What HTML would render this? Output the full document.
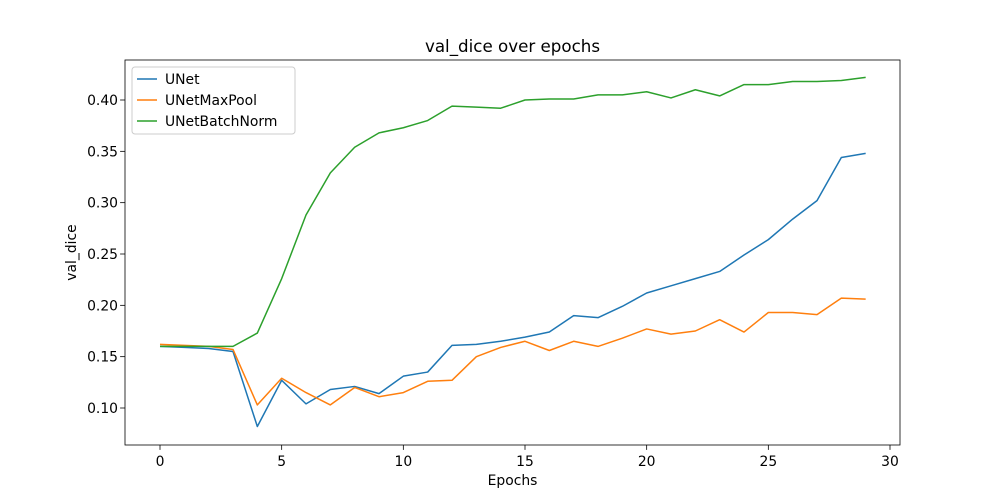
<!DOCTYPE html>
<html><head><meta charset="utf-8"><style>
html,body{margin:0;padding:0;background:#fff;}
svg{display:block;font-family:"DejaVu Sans","Liberation Sans",sans-serif;}
</style></head><body>
<svg id="chart" width="1000" height="500" viewBox="0 0 1000 500" xmlns="http://www.w3.org/2000/svg">
<rect width="1000" height="500" fill="#fff"/>
<text x="512.5" y="52" font-size="16.7" text-anchor="middle">val_dice over epochs</text>
<g id="axes"></g>
<g id="lines"></g>
<rect x="125" y="60" width="775" height="385" fill="none" stroke="#000" stroke-width="0.8"/>
<text x="512.5" y="485" font-size="13.9" text-anchor="middle">Epochs</text>
<text transform="translate(76,252.5) rotate(-90)" font-size="13.9" text-anchor="middle">val_dice</text>
<g id="legend"></g>
</svg>
<script>
const epochs = [0,1,2,3,4,5,6,7,8,9,10,11,12,13,14,15,16,17,18,19,20,21,22,23,24,25,26,27,28,29];
const unet = [0.160,0.159,0.158,0.155,0.082,0.127,0.104,0.118,0.121,0.114,0.131,0.135,0.161,0.162,0.165,0.169,0.174,0.190,0.188,0.199,0.212,0.219,0.226,0.233,0.249,0.264,0.284,0.302,0.344,0.348];
const unetMaxPool = [0.162,0.161,0.160,0.157,0.103,0.129,0.115,0.103,0.120,0.111,0.115,0.126,0.127,0.150,0.159,0.165,0.156,0.165,0.160,0.168,0.177,0.172,0.175,0.186,0.174,0.193,0.193,0.191,0.207,0.206];
const unetBatchNorm = [0.160,0.160,0.160,0.160,0.173,0.226,0.288,0.329,0.354,0.368,0.373,0.380,0.394,0.393,0.392,0.400,0.401,0.401,0.405,0.405,0.408,0.402,0.410,0.404,0.415,0.415,0.418,0.418,0.419,0.422];
const xTicks = [0,5,10,15,20,25,30];
const yTicks = [0.10,0.15,0.20,0.25,0.30,0.35,0.40];
const seriesNames = ["UNet","UNetMaxPool","UNetBatchNorm"];
const colors = ["#1f77b4","#ff7f0e","#2ca02c"];

const NS="http://www.w3.org/2000/svg";
const xs = v => 160 + (v-0)*(730/30);
const ys = v => 408 - (v-0.10)*(308/0.30);
function mk(tag,attrs,parent){const e=document.createElementNS(NS,tag);for(const k in attrs)e.setAttribute(k,attrs[k]);parent.appendChild(e);return e;}
const axes=document.getElementById('axes');
xTicks.forEach(t=>{
  const g=mk('g',{},axes);
  
  
  mk('line',{x1:xs(t),x2:xs(t),y1:445,y2:449.9,stroke:'#000','stroke-width':0.8},g);
  const tx=mk('text',{x:xs(t),y:466,'font-size':13.9,'text-anchor':'middle'},g);tx.textContent=t;
});
yTicks.forEach(t=>{
  const g=mk('g',{},axes);
  
  
  mk('line',{x1:120.1,x2:125,y1:ys(t),y2:ys(t),stroke:'#000','stroke-width':0.8},g);
  const tx=mk('text',{x:118,y:ys(t)+5,'font-size':13.9,'text-anchor':'end'},g);tx.textContent=t.toFixed(2);
});
const lines=document.getElementById('lines');
[unet,unetMaxPool,unetBatchNorm].forEach((s,i)=>{
  const p=mk('polyline',{points:s.map((v,j)=>xs(epochs[j])+','+ys(v)).join(' '),fill:'none',stroke:colors[i],'stroke-width':1.5,'stroke-linejoin':'round'},lines);
  
  
});
const lg=document.getElementById('legend');
mk('rect',{x:132,y:67,width:163,height:67,rx:3,fill:'#fff','fill-opacity':0.8,stroke:'#ccc','stroke-width':1},lg);
seriesNames.forEach((n,i)=>{
  const g=mk('g',{},lg);
  
  
  const y=79+i*21;
  mk('line',{x1:137,x2:157,y1:y,y2:y,stroke:colors[i],'stroke-width':1.5},g);
  const t=mk('text',{x:165,y:y+5,'font-size':13.9},g);t.textContent=n;
});
</script>
</body></html>
